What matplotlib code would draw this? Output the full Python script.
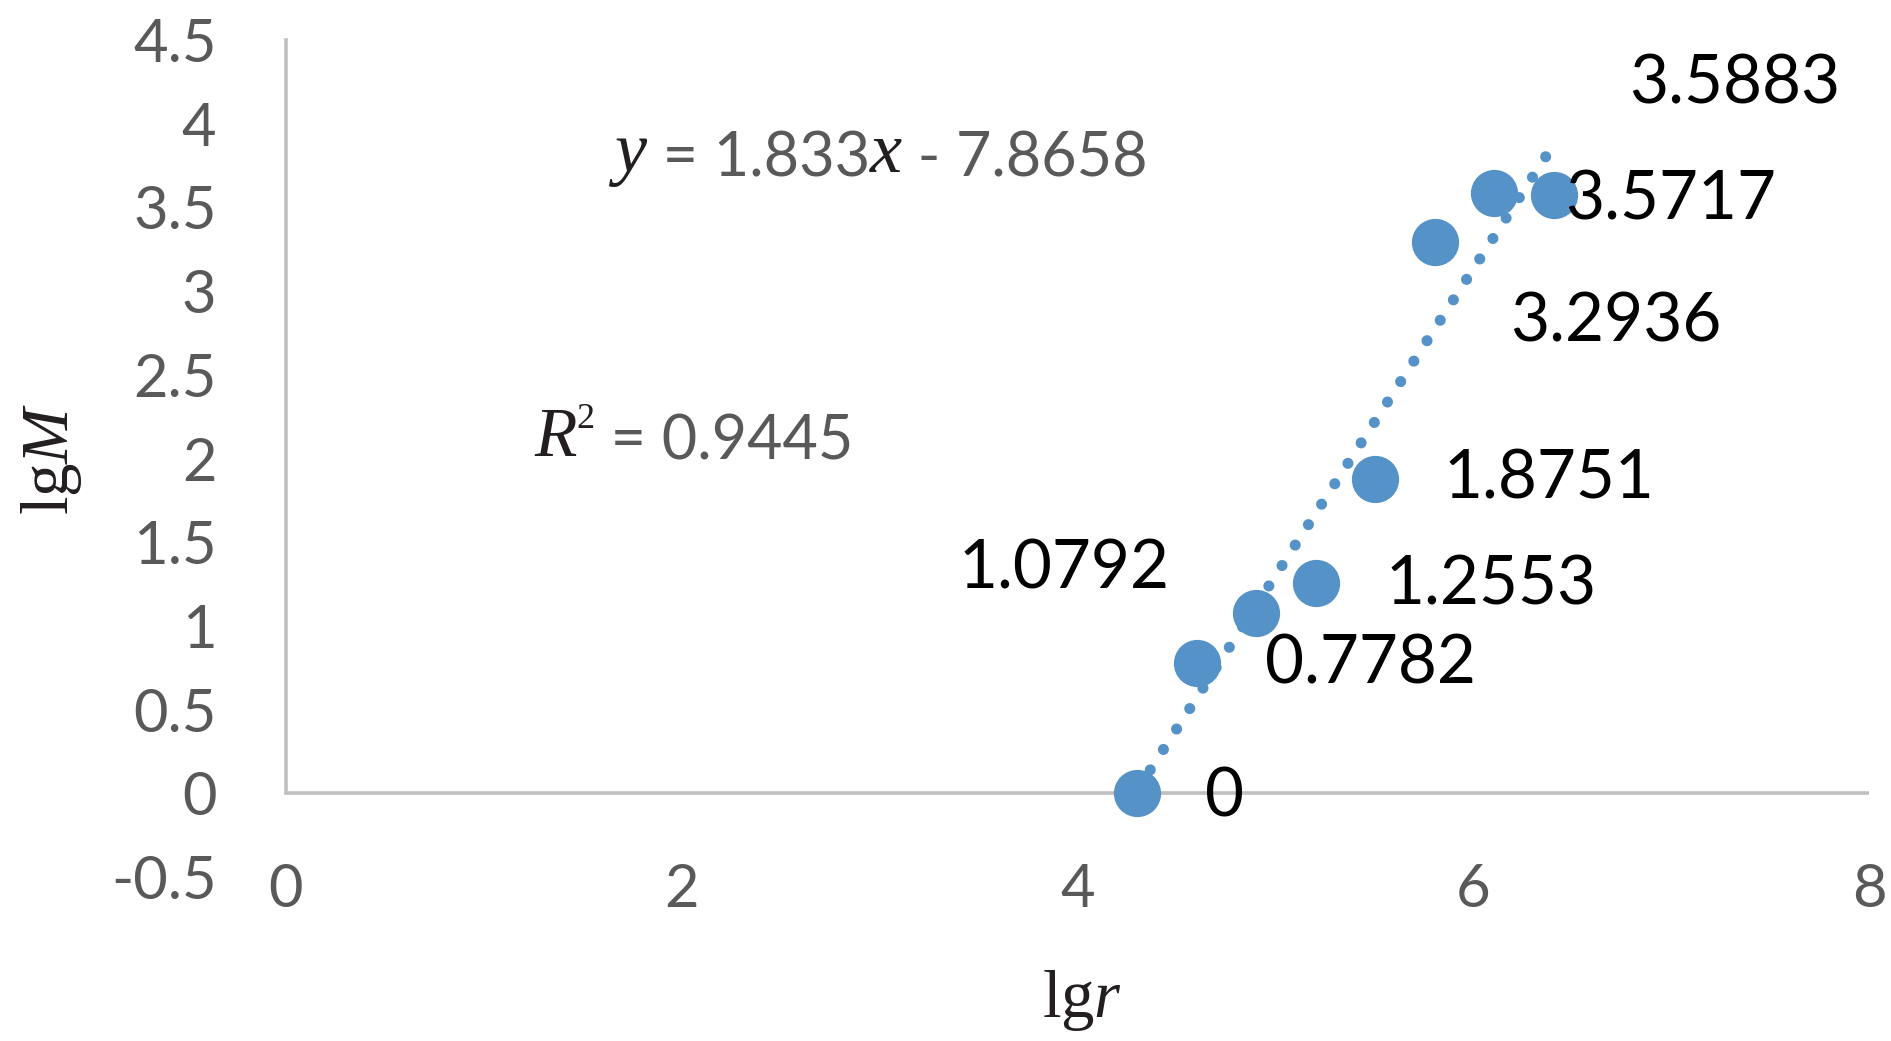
import matplotlib
matplotlib.use('Agg')
import matplotlib.pyplot as plt
import numpy as np

plt.rcParams['font.family'] = ['Lato', 'DejaVu Sans']
plt.rcParams['mathtext.fontset'] = 'custom'
plt.rcParams['mathtext.rm'] = 'Liberation Serif'
plt.rcParams['mathtext.it'] = 'Liberation Serif:italic'
plt.rcParams['axes.unicode_minus'] = False
plt.rcParams['lines.scale_dashes'] = False

# ── data ─────────────────────────────────────────────────────────────
lg_r = [4.301, 4.602, 4.903, 5.204, 5.505, 5.806, 6.107, 6.408]
lg_M = [0, 0.7782, 1.0792, 1.2553, 1.8751, 3.2936, 3.5883, 3.5717]

# trendline
slope = 1.833
intercept = -7.8658
r2 = 0.9445

x_ticks = [0, 2, 4, 6, 8]
y_ticks = [-0.5, 0, 0.5, 1, 1.5, 2, 2.5, 3, 3.5, 4, 4.5]

# where each data label sits relative to its point (points), and alignment
label_offsets = [(49, -3), (49, -1), (-62, 31), (50, -2),
                 (49, 0), (54, -58), (97, 78), (8, -4)]
label_ha = ['left', 'left', 'right', 'left', 'left', 'left', 'left', 'left']

BLUE = '#5592C8'
GRAY = '#595959'
AXIS = '#BFBFBF'
INK = '#231F20'

fig = plt.figure(figsize=(18.91, 10.41), dpi=100)
ax = fig.add_axes([0.1512, 0.1575, 0.8372, 0.8041])

# scatter points
ax.plot(lg_r, lg_M, linestyle='none', marker='o', markersize=33,
        color=BLUE, zorder=3)

# dotted linear trendline
xs = np.array([min(lg_r), max(lg_r)])
ax.plot(xs, slope * xs + intercept, color=BLUE, linewidth=8,
        linestyle=(0, (0.01, 17.5)), dash_capstyle='round', zorder=4)

# data labels
for xv, yv, off, ha in zip(lg_r, lg_M, label_offsets, label_ha):
    ax.annotate(f'{yv:g}', xy=(xv, yv), xytext=off, textcoords='offset points',
                ha=ha, va='center', fontsize=48.5, color='black', zorder=5)

# axes look
ax.set_xlim(0, 8)
ax.set_ylim(-0.5, 4.5)
ax.set_xticks(x_ticks)
ax.set_xticklabels([f'{v:g}' for v in x_ticks])
ax.set_yticks(y_ticks)
ax.set_yticklabels([f'{v:g}' for v in y_ticks])
ax.tick_params(axis='both', length=0, labelsize=43, labelcolor=GRAY)
ax.tick_params(axis='y', pad=50)
ax.tick_params(axis='x', pad=-10)

for side in ['top', 'right', 'bottom']:
    ax.spines[side].set_visible(False)
ax.spines['left'].set_color(AXIS)
ax.spines['left'].set_linewidth(2.6)
ax.spines['left'].set_bounds(0, 4.5)
ax.axhline(0, color=AXIS, linewidth=2.6, zorder=1)

ax.set_xlabel(r'lg$r$', fontsize=48, color=INK, family='Liberation Serif', va='center')
ax.set_ylabel(r'lg$M$', fontsize=48, color=INK, family='Liberation Serif', va='center')
ax.xaxis.set_label_coords(0.503, -0.148)
ax.yaxis.set_label_coords(-0.148, 0.5)


# trendline equation, built piece by piece (serif italic letters + grey digits)
def chain(pieces, xy):
    prev = None
    for txt, kw, dy in pieces:
        if prev is None:
            prev = ax.annotate(txt, xy=xy, xycoords='data', ha='left', va='baseline', **kw)
        else:
            prev = ax.annotate(txt, xy=(1, 0), xycoords=prev, xytext=(0, dy),
                               textcoords='offset points', ha='left', va='bottom', **kw)


serif_it = dict(fontsize=52, color=INK, family='Liberation Serif', style='italic')
sans = dict(fontsize=44, color=GRAY)

chain([('y', serif_it, 0),
       (f' = {slope}', sans, 0),
       ('x', serif_it, 0),
       (f' - {-intercept}', sans, 0)], (1.66, 3.71))

chain([('R', dict(fontsize=50, color=INK, family='Liberation Serif', style='italic'), 0),
       ('2', dict(fontsize=26, color=INK, family='Liberation Serif'), 25),
       (f' = {r2}', sans, -25)], (1.255, 2.016))

fig.savefig('out.png', dpi=100)
